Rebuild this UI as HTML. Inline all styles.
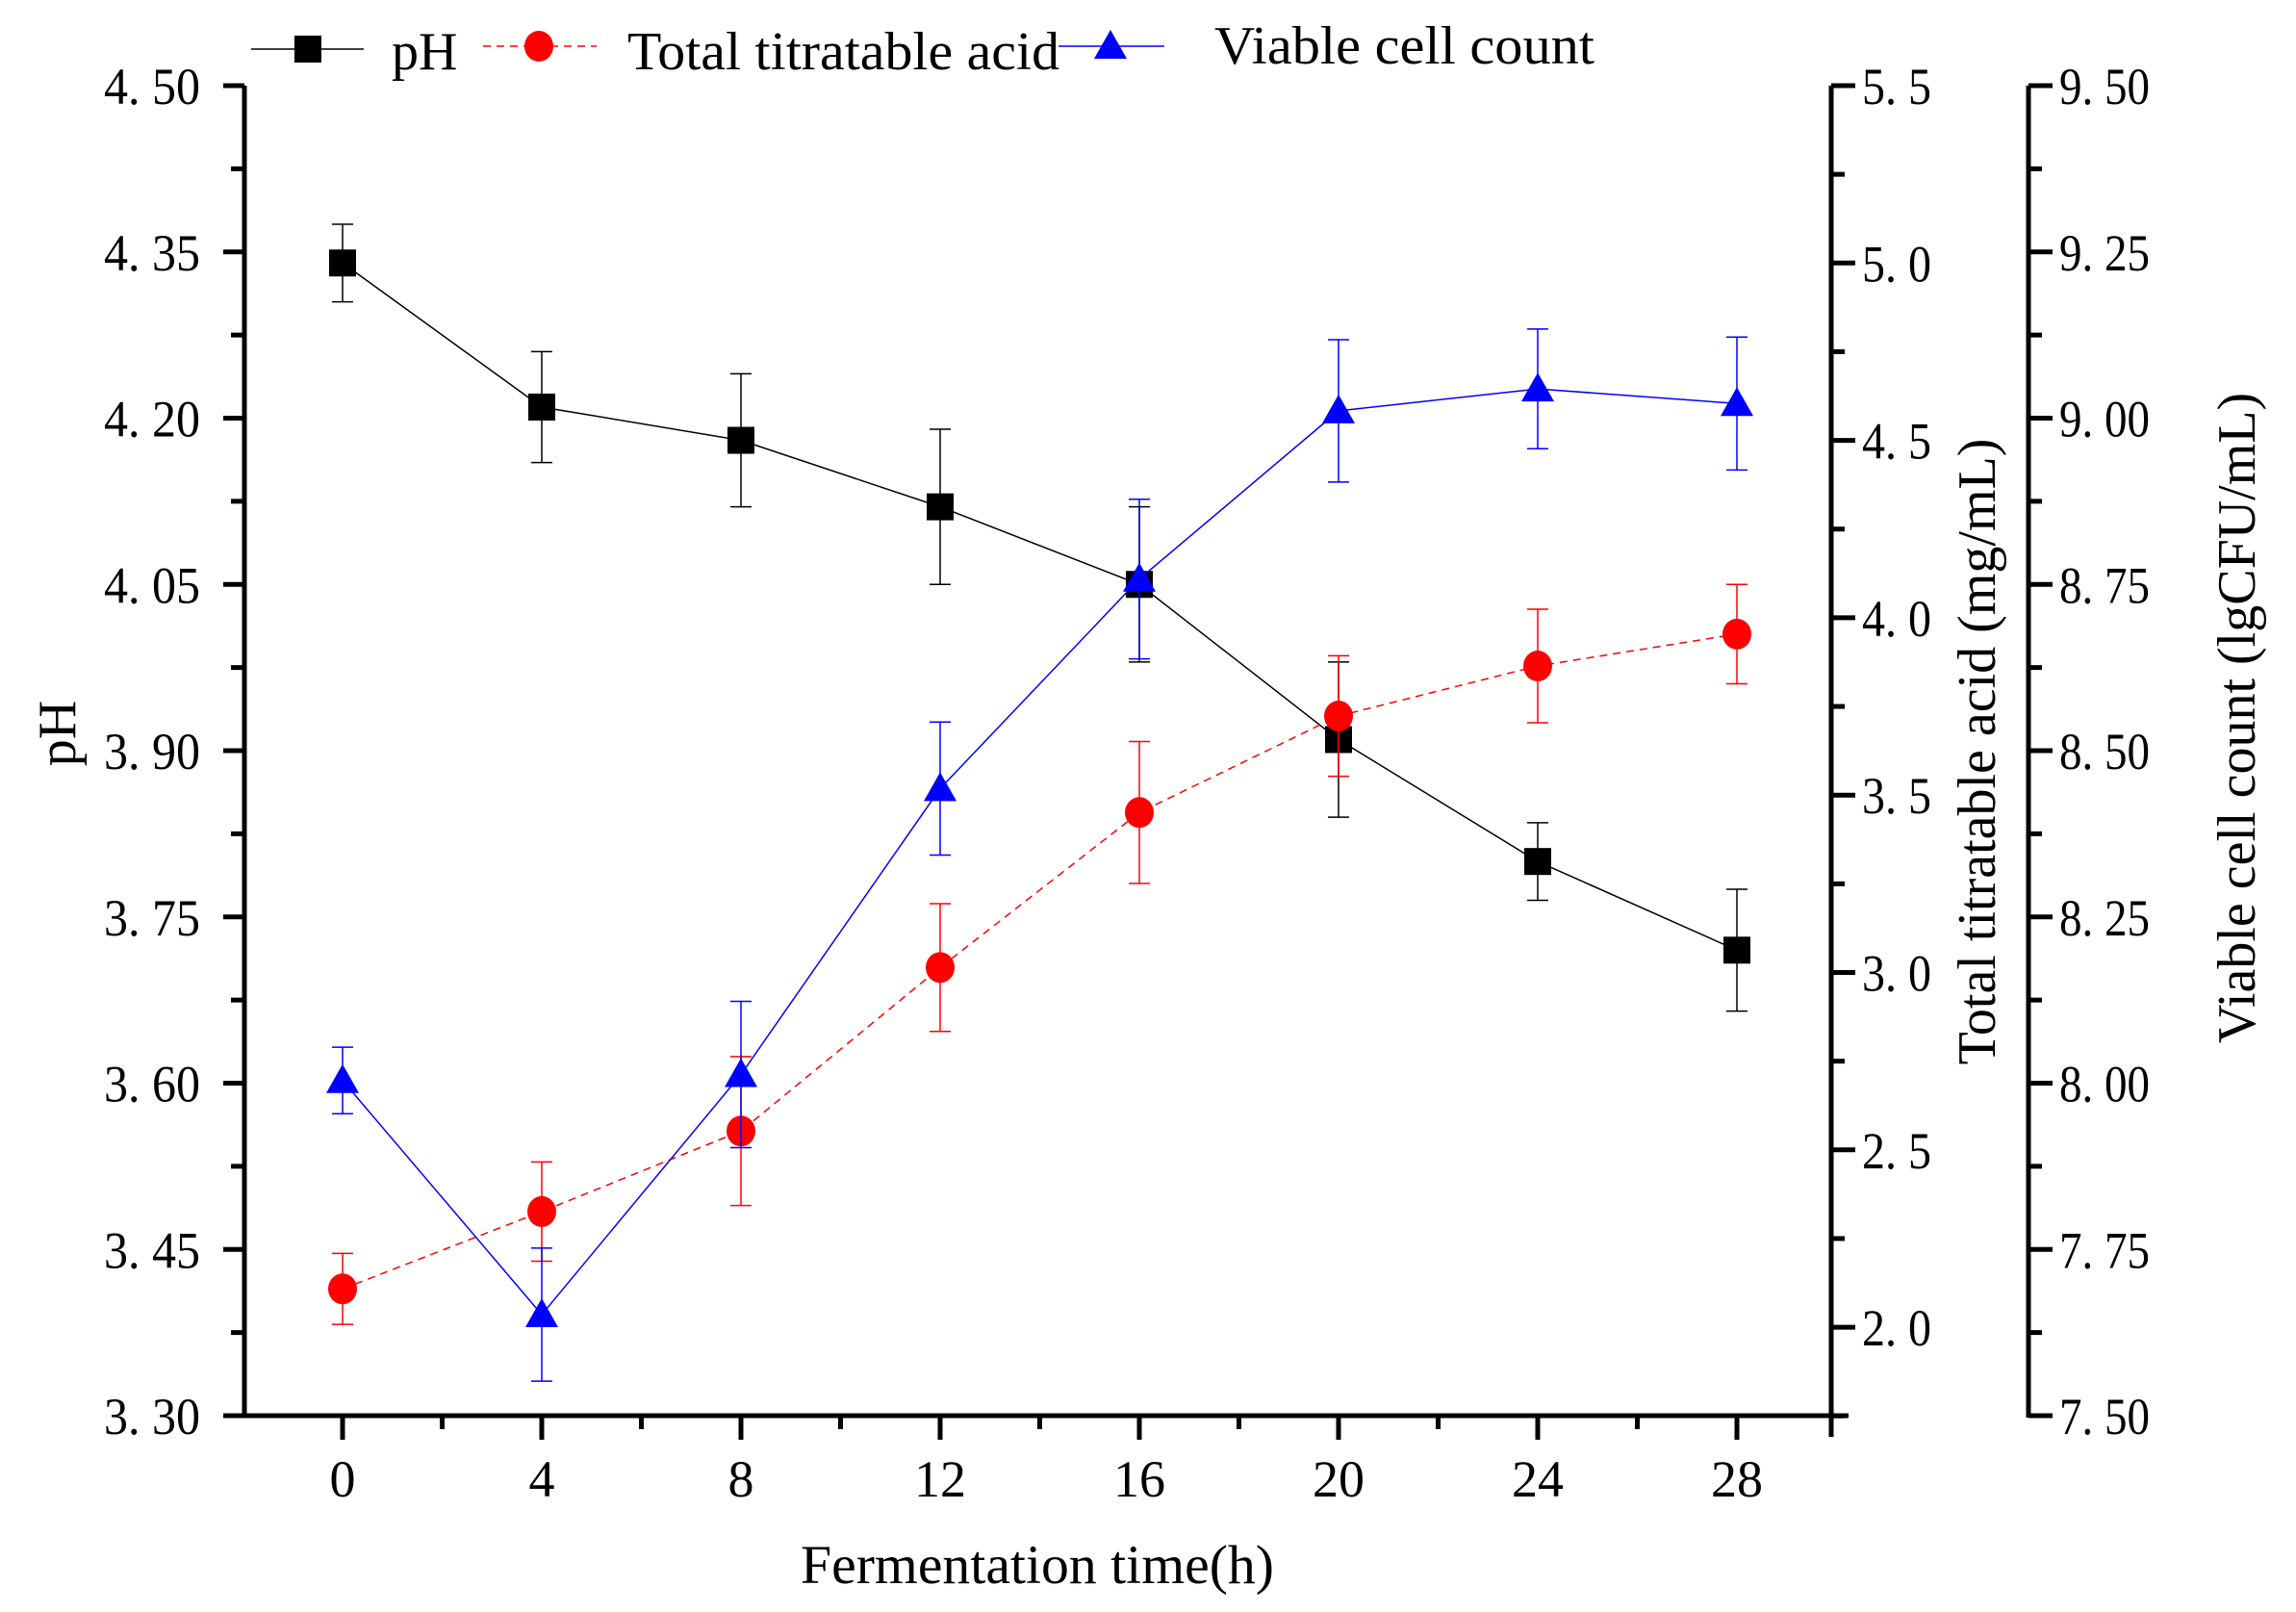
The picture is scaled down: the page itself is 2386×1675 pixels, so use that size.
<!DOCTYPE html>
<html><head><meta charset="utf-8"><style>
html,body{margin:0;padding:0;background:#fff;}
svg{display:block;}
text{font-family:"Liberation Serif",serif;fill:#000;}
</style></head><body>
<svg id="s" width="2386" height="1675" xmlns="http://www.w3.org/2000/svg"></svg>
<script>
const s=document.getElementById('s');let h='';
const L=254,R1=1903,R2=2108,T=89,B=1471;
const X=t=>356+t*207/4;
const yP=v=>T+(4.5-v)/1.2*(B-T);
const yAcc=v=>T+(5.5-v)*368.6;
const yV=v=>T+(9.5-v)/2*(B-T);
const ln=(a,b,c,d,st,w,ex='')=>h+=`<line x1="${a}" y1="${b}" x2="${c}" y2="${d}" stroke="${st}" stroke-width="${w}" ${ex}/>`;
const tx=(x,y,t,sz,anc='start',ex='')=>h+=`<text x="${x}" y="${y}" font-size="${sz}" text-anchor="${anc}" ${ex}>${t}</text>`;
ln(L,T,L,B+2,'#000',5);ln(L-2,B,R1+18,B,'#000',5);
ln(R1,T,R1,B+22,'#000',5);ln(R2,T,R2,B+2,'#000',5);
for(let i=0;i<=16;i++){const v=4.5-i*0.075,y=yP(v);const maj=i%2==0;ln(maj?L-22:L-14,y,L,y,'#000',5);
 if(maj)tx(L-46,y+19,(v).toFixed(2).replace('.','. '),54,'end','textLength="100" lengthAdjust="spacingAndGlyphs"');}
for(let t=-2;t<=32;t+=2){const x=X(t);if(x<L||x>R1)continue;const maj=t%4==0;ln(x,B,x,B+(maj?25:14),'#000',5);
 if(maj&&t>=0&&t<=28)tx(x,B+84,t,54,'middle');}
for(let v=5.5;v>=1.75;v-=0.25){const y=yAcc(v);const maj=Math.abs(v*2-Math.round(v*2))<1e-6;ln(R1,y,R1+(maj?25:14),y,'#000',5);
 if(maj)tx(R1+32,y+19,v.toFixed(1).replace('.','. '),54,'start','textLength="72" lengthAdjust="spacingAndGlyphs"');}
for(let i=0;i<=16;i++){const v=9.5-i*0.125,y=yV(v);const maj=i%2==0;ln(R2,y,R2+(maj?25:14),y,'#000',5);
 if(maj)tx(R2+32,y+19,v.toFixed(2).replace('.','. '),54,'start','textLength="94" lengthAdjust="spacingAndGlyphs"');}
tx(1078,1645,'Fermentation time(h)',57,'middle','textLength="492" lengthAdjust="spacingAndGlyphs"');
tx(0,0,'pH',56,'middle','transform="translate(78,762) rotate(-90)"');
tx(0,0,'Total titratable acid (mg/mL)',56,'middle','transform="translate(2073,781) rotate(-90)"');
tx(0,0,'Viable cell count (lgCFU/mL)',56,'middle','transform="translate(2343,746) rotate(-90)"');
const ts=[0,4,8,12,16,20,24,28];
const pH=[4.34,4.21,4.18,4.12,4.05,3.91,3.80,3.72],pE=[0.035,0.05,0.06,0.07,0.07,0.07,0.035,0.055];
const ta=[2.108,2.326,2.553,3.014,3.451,3.723,3.864,3.954],tE=[0.1,0.14,0.21,0.18,0.2,0.17,0.16,0.14];
const vc=[8.004,7.652,8.013,8.443,8.758,9.011,9.044,9.022],vE=[0.05,0.1,0.11,0.1,0.12,0.107,0.09,0.1];
function series(vals,errs,fy,col,dash,mk){
 let p=vals.map((v,i)=>X(ts[i])+','+fy(v)).join(' ');
 h+=`<polyline points="${p}" fill="none" stroke="${col}" stroke-width="1.5" ${dash?'stroke-dasharray="8,6"':''}/>`;
 vals.forEach((v,i)=>{const x=X(ts[i]);const a=fy(v+errs[i]),b=fy(v-errs[i]);ln(x,a,x,b,col,1.5);ln(x-11,a,x+11,a,col,1.5);ln(x-11,b,x+11,b,col,1.5);});
 vals.forEach((v,i)=>mk(X(ts[i]),fy(v)));
}
const sq=(x,y)=>h+=`<rect x="${x-14}" y="${y-14}" width="28" height="28" fill="#000"/>`;
const ci=(x,y)=>h+=`<ellipse cx="${x}" cy="${y}" rx="15" ry="16" fill="#f00"/>`;
const tr=(x,y)=>h+=`<polygon points="${x},${y-17} ${x-17},${y+13} ${x+17},${y+13}" fill="#00f"/>`;
series(pH,pE,yP,'#000',false,sq);
series(ta,tE,yAcc,'#f00',true,ci);
series(vc,vE,yV,'#00f',false,tr);
ln(261,51,378,51,'#000',1.5);sq(320,51);tx(407,72,'pH',56);
ln(502,48,620,48,'#f00',1.5,'stroke-dasharray="8,6"');ci(560,48);tx(652,72,'Total titratable acid',56,'start','textLength="449" lengthAdjust="spacingAndGlyphs"');
ln(1100,48,1210,48,'#00f',1.5);tr(1154,48);tx(1262,66,'Viable cell count',56,'start','textLength="395" lengthAdjust="spacingAndGlyphs"');
s.innerHTML=h;
</script>
</body></html>
